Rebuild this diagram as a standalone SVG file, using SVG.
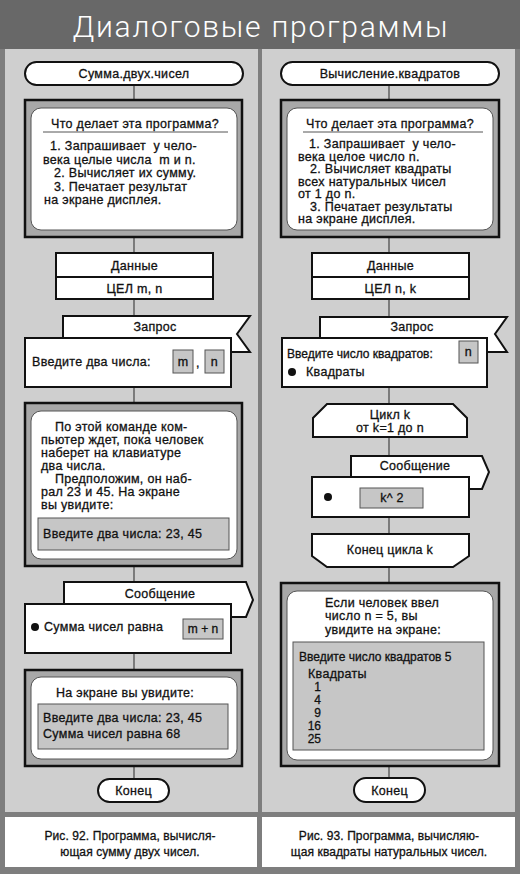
<svg xmlns="http://www.w3.org/2000/svg" width="520" height="874" viewBox="0 0 520 874">
<style>
text{font-family:"Liberation Sans",Arial,sans-serif;font-size:12.5px;letter-spacing:0.3px;fill:#111;stroke:#111;stroke-width:0.3}
.c{text-anchor:middle}
.e{text-anchor:end}
.n0{letter-spacing:0;font-size:12px}
.capt{font-size:12px;letter-spacing:0.1px}
.title{font-family:Roboto,"Liberation Sans",sans-serif;font-weight:300;font-size:30px;fill:#fff;stroke:none;letter-spacing:0}
.term{fill:#fff;stroke:#111;stroke-width:2}
.outer{fill:#a8a8a8;stroke:#111;stroke-width:2.5}
.inner{fill:#fff;stroke:#555;stroke-width:1}
.blk{fill:#fff;stroke:#111;stroke-width:2}
.scr{fill:#c6c6c6;stroke:#555;stroke-width:1}
.panel{fill:#cfcfcf}
.cap{fill:#fff}
.conn line{stroke:#444;stroke-width:1.2}
</style>
<rect x="0" y="0" width="520" height="874" fill="#7e7e7e"/>
<rect x="0" y="0" width="520" height="49" fill="#686868"/>
<text class="title c" x="260" y="37" textLength="375" lengthAdjust="spacing">Диалоговые программы</text>
<rect class="panel" x="5" y="49" width="253" height="763"/>
<rect class="panel" x="262" y="49" width="253" height="763"/>
<rect class="cap" x="5" y="817" width="252" height="50"/>
<rect class="cap" x="262" y="817" width="253" height="50"/>

<g id="connectors" class="conn">
<line x1="134" y1="85" x2="134" y2="100"/>
<line x1="134" y1="237" x2="134" y2="253"/>
<line x1="134" y1="299" x2="134" y2="316"/>
<line x1="134" y1="387" x2="134" y2="403"/>
<line x1="134" y1="566" x2="134" y2="582"/>
<line x1="134" y1="653" x2="134" y2="670"/>
<line x1="134" y1="766" x2="134" y2="779"/>
<line x1="389" y1="85" x2="389" y2="100"/>
<line x1="389" y1="237" x2="389" y2="253"/>
<line x1="389" y1="299" x2="389" y2="317"/>
<line x1="389" y1="387" x2="389" y2="404"/>
<line x1="389" y1="437" x2="389" y2="456"/>
<line x1="389" y1="517" x2="389" y2="534"/>
<line x1="389" y1="567" x2="389" y2="583"/>
<line x1="389" y1="766" x2="389" y2="778"/>
</g>

<!-- Left column -->
<g id="start-left">
<rect class="term" x="25" y="62" width="218" height="23" rx="11.5"/>
<text class="c" x="134" y="78">Сумма.двух.чисел</text>
</g>
<g id="info-left">
<rect class="outer" x="25" y="100" width="217" height="137"/>
<rect class="inner" x="31" y="108" width="206" height="122" rx="10"/>
<text class="c" x="135" y="128">Что делает эта программа?</text>
<line x1="43" y1="132" x2="228" y2="132" stroke="#555" stroke-width="1"/>
<text x="50" y="150" xml:space="preserve">1. Запрашивает  у чело-</text>
<text x="43" y="163.5" xml:space="preserve">века целые числа  m и n.</text>
<text x="54" y="177">2. Вычисляет их сумму.</text>
<text x="54" y="190.5">3. Печатает результат</text>
<text x="44" y="204">на экране дисплея.</text>
</g>
<g id="data-left">
<rect class="blk" x="56" y="253" width="157" height="46"/>
<line x1="56" y1="277" x2="213" y2="277" stroke="#111" stroke-width="2"/>
<text class="c" x="134.5" y="270">Данные</text>
<text class="c" x="134.5" y="293">ЦЕЛ m, n</text>
</g>
<g id="query-left">
<polygon class="blk" points="63,316 250,316 237,334 250,352 63,352"/>
<text class="c" x="155" y="331">Запрос</text>
<rect class="blk" x="25" y="338" width="206" height="49" stroke-width="2.5"/>
<text x="32" y="366">Введите два числа:</text>
<rect class="scr" x="173" y="350" width="20" height="23"/>
<text class="c" x="183" y="366">m</text>
<text x="196" y="367">,</text>
<rect class="scr" x="205" y="350" width="19" height="23"/>
<text class="c" x="214.5" y="366">n</text>
</g>
<g id="note-left">
<rect class="outer" x="25" y="403" width="217" height="163"/>
<rect class="inner" x="31" y="411" width="206" height="148" rx="10"/>
<text x="55" y="431">По этой команде ком-</text>
<text x="41" y="444">пьютер ждет, пока человек</text>
<text x="41" y="457">наберет на клавиатуре</text>
<text x="41" y="470">два числа.</text>
<text x="55" y="483">Предположим, он наб-</text>
<text x="41" y="496">рал 23 и 45. На экране</text>
<text x="41" y="509">вы увидите:</text>
<rect class="scr" x="38" y="518" width="191" height="32"/>
<text x="43" y="538">Введите два числа: 23, 45</text>
</g>
<g id="message-left">
<polygon class="blk" points="64,582 246,582 253,600 246,617 64,617"/>
<text class="c" x="160" y="598">Сообщение</text>
<rect class="blk" x="25" y="604" width="206" height="49" stroke-width="2.5"/>
<circle cx="35" cy="627" r="4" fill="#111"/>
<text x="44" y="631">Сумма чисел равна</text>
<rect class="scr" x="183" y="619" width="40" height="20"/>
<text class="c n0" x="203" y="633">m + n</text>
</g>
<g id="result-left">
<rect class="outer" x="25" y="670" width="217" height="96"/>
<rect class="inner" x="31" y="677" width="206" height="82" rx="10"/>
<text x="56" y="697">На экране вы увидите:</text>
<rect class="scr" x="38" y="704" width="190" height="45"/>
<text x="43" y="722">Введите два числа: 23, 45</text>
<text x="43" y="738">Сумма чисел равна 68</text>
</g>
<g id="end-left">
<rect class="term" x="98" y="779" width="71" height="23" rx="11.5"/>
<text class="c" x="133.5" y="795">Конец</text>
</g>
<g id="caption-left">
<text class="c capt" x="130" y="840">Рис. 92. Программа, вычисля-</text>
<text class="c capt" x="130" y="856">ющая сумму двух чисел.</text>
</g>

<!-- Right column -->
<g id="start-right">
<rect class="term" x="281" y="62" width="218" height="23" rx="11.5"/>
<text class="c" x="390" y="78">Вычисление.квадратов</text>
</g>
<g id="info-right">
<rect class="outer" x="281" y="100" width="218" height="137"/>
<rect class="inner" x="287" y="108" width="206" height="122" rx="10"/>
<text class="c" x="390" y="128">Что делает эта программа?</text>
<line x1="303" y1="132" x2="483" y2="132" stroke="#555" stroke-width="1"/>
<text x="309" y="148" xml:space="preserve">1. Запрашивает  у чело-</text>
<text x="298" y="160.5">века целое число n.</text>
<text x="310" y="173">2. Вычисляет квадраты</text>
<text x="298" y="185.5">всех натуральных чисел</text>
<text x="298" y="198">от 1 до n.</text>
<text x="310" y="210.5">3. Печатает результаты</text>
<text x="298" y="223">на экране дисплея.</text>
</g>
<g id="data-right">
<rect class="blk" x="312" y="253" width="157" height="46"/>
<line x1="312" y1="277" x2="469" y2="277" stroke="#111" stroke-width="2"/>
<text class="c" x="390.5" y="270">Данные</text>
<text class="c" x="390.5" y="293">ЦЕЛ n, k</text>
</g>
<g id="query-right">
<polygon class="blk" points="320,317 507,317 495,334 507,352 320,352"/>
<text class="c" x="412" y="331">Запрос</text>
<rect class="blk" x="282" y="338" width="205" height="49" stroke-width="2.5"/>
<text class="n0" x="287" y="358">Введите число квадратов:</text>
<rect class="scr" x="459" y="341" width="19" height="22"/>
<text class="c" x="468.5" y="356">n</text>
<circle cx="292" cy="372" r="4" fill="#111"/>
<text x="306" y="376">Квадраты</text>
</g>
<g id="loop-start">
<polygon class="blk" points="327,404 453,404 467,418 467,437 313,437 313,418"/>
<text class="c" x="390" y="419">Цикл k</text>
<text class="c" x="390" y="432">от k=1 до n</text>
</g>
<g id="message-right">
<polygon class="blk" points="351,456 482,456 489,472 482,489 351,489"/>
<text class="c" x="415" y="470">Сообщение</text>
<rect class="blk" x="312" y="477" width="157" height="40" stroke-width="2.5"/>
<circle cx="328" cy="497" r="4" fill="#111"/>
<rect class="scr" x="360" y="488" width="63" height="20"/>
<text class="c" x="392" y="502">k^ 2</text>
</g>
<g id="loop-end">
<polygon class="blk" points="312,534 469,534 469,556 453,567 327,567 312,556"/>
<text class="c" x="390" y="554">Конец цикла k</text>
</g>
<g id="result-right">
<rect class="outer" x="281" y="583" width="218" height="183"/>
<rect class="inner" x="287" y="591" width="206" height="169" rx="10"/>
<text x="325" y="607">Если человек ввел</text>
<text x="325" y="620">число n = 5, вы</text>
<text x="325" y="634">увидите на экране:</text>
<rect class="scr" x="293" y="642" width="191" height="108"/>
<text class="n0" x="299" y="661">Введите число квадратов 5</text>
<text x="308" y="678">Квадраты</text>
<text class="e n0" x="321" y="691">1</text>
<text class="e n0" x="321" y="704">4</text>
<text class="e n0" x="321" y="717">9</text>
<text class="e n0" x="321" y="730">16</text>
<text class="e n0" x="321" y="742.5">25</text>
</g>
<g id="end-right">
<rect class="term" x="354" y="778" width="71" height="24" rx="12"/>
<text class="c" x="389.5" y="795">Конец</text>
</g>
<g id="caption-right">
<text class="c capt" x="389" y="840">Рис. 93. Программа, вычисляю-</text>
<text class="c capt" x="389" y="856">щая квадраты натуральных чисел.</text>
</g>
</svg>
